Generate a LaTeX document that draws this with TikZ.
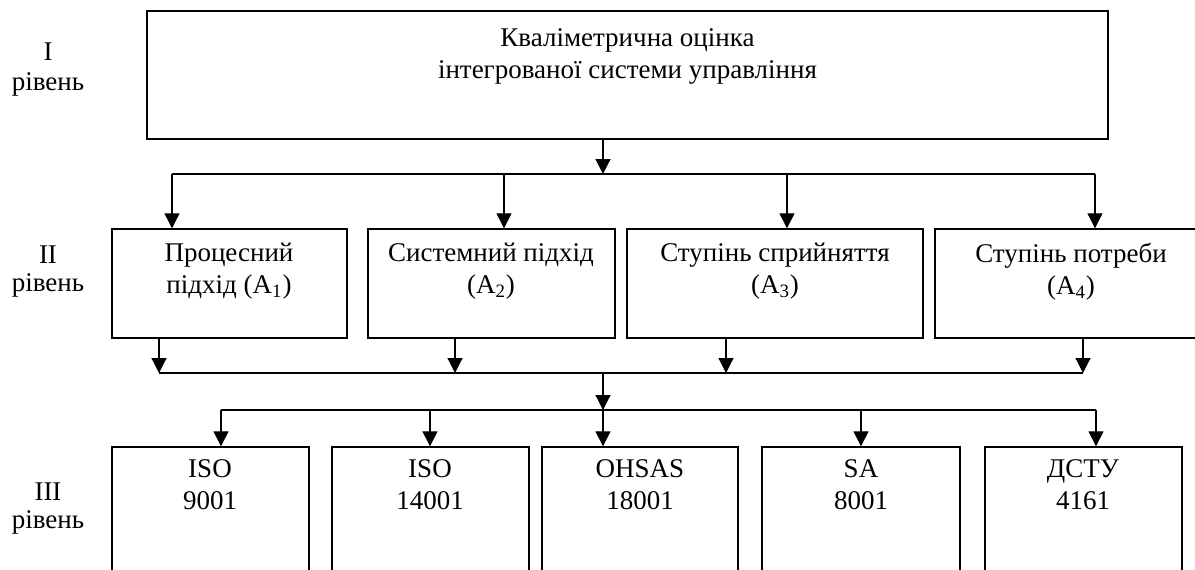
\documentclass[tikz,border=0pt]{standalone}
\usepackage{fontspec}
\setmainfont{Liberation Serif}
\usetikzlibrary{arrows.meta}
\begin{document}
\begin{tikzpicture}[x=0.5pt,y=-0.5pt,
	box/.style={draw=black,line width=0.7pt},
	txt/.style={anchor=north,align=center,font=\fontsize{13.5}{16}\selectfont,execute at begin node=\strut},
	arr/.style={black,line width=0.6pt,-{Triangle[length=7.5pt,width=7.5pt]}},
	rail/.style={black,line width=0.6pt}]
	\tikzstyle{every node}+=[inner sep=0pt]
	\useasboundingbox (0,0) rectangle (1195,569);
	\clip (0,0) rectangle (1195,569);
	% level labels
	\node [txt] (lvI) at (48,42.6) {I\\[-1pt]рівень};
	\node [txt] (lvII) at (48,245.6) {II\\[-2pt]рівень};
	\node [txt] (lvIII) at (48,482.6) {III\\[-2pt]рівень};
	% level I
	\node [box,minimum width=480.5pt,minimum height=64pt] (top) at (627.5,75) {};
	\node [txt] (topt) at (627.5,28.6) {Кваліметрична оцінка\\інтегрованої системи управління};
	% level II
	\node [box,minimum width=117.5pt,minimum height=54.5pt] (b1) at (229.5,283.5) {};
	\node [box,minimum width=123.5pt,minimum height=54.5pt] (b2) at (491.5,283.5) {};
	\node [box,minimum width=148pt,minimum height=54.5pt] (b3) at (775,283.5) {};
	\node [box,minimum width=136pt,minimum height=54.5pt] (b4) at (1071,283.5) {};
	\node [txt] (b1t) at (229,242.6) {Процесний\\підхід (A\textsubscript{1})};
	\node [txt] (b2t) at (491,242.6) {Системний підхід\\(A\textsubscript{2})};
	\node [txt] (b3t) at (775,242.6) {Ступінь сприйняття\\(A\textsubscript{3})};
	\node [txt] (b4t) at (1071,242.6) {Ступінь потреби\\(A\textsubscript{4})};
	% level III
	\node [box,minimum width=98.5pt,minimum height=76.5pt] (c1) at (210.5,523.5) {};
	\node [box,minimum width=98.5pt,minimum height=76.5pt] (c2) at (430.5,523.5) {};
	\node [box,minimum width=98pt,minimum height=76.5pt] (c3) at (640,523.5) {};
	\node [box,minimum width=99pt,minimum height=76.5pt] (c4) at (861,523.5) {};
	\node [box,minimum width=98.5pt,minimum height=76.5pt] (c5) at (1083.5,523.5) {};
	\node [txt] (c1t) at (210,459.6) {ISO\\9001};
	\node [txt] (c2t) at (430,459.6) {ISO\\14001};
	\node [txt] (c3t) at (640,459.6) {OHSAS\\18001};
	\node [txt] (c4t) at (861,459.6) {SA\\8001};
	\node [txt] (c5t) at (1083,459.6) {ДСТУ\\4161};
	% rail points
	\coordinate (s0) at (603,174);
	\coordinate (s1) at (172,174);
	\coordinate (s2) at (504,174);
	\coordinate (s3) at (787,174);
	\coordinate (s4) at (1095,174);
	\coordinate (m0) at (603,373);
	\coordinate (m1) at (159,373);
	\coordinate (m2) at (455,373);
	\coordinate (m3) at (726,373);
	\coordinate (m4) at (1083,373);
	\coordinate (n0) at (603,410);
	\coordinate (n1) at (221,410);
	\coordinate (n2) at (430,410);
	\coordinate (n4) at (861,410);
	\coordinate (n5) at (1096,410);
	% I -> II
	\draw [arr] (s0 |- top.south) -- (s0);
	\draw [rail] (s1) -- (s4);
	\draw [arr] (s1) -- (s1 |- b1.north);
	\draw [arr] (s2) -- (s2 |- b2.north);
	\draw [arr] (s3) -- (s3 |- b3.north);
	\draw [arr] (s4) -- (s4 |- b4.north);
	% II -> III
	\draw [arr] (m1 |- b1.south) -- (m1);
	\draw [arr] (m2 |- b2.south) -- (m2);
	\draw [arr] (m3 |- b3.south) -- (m3);
	\draw [arr] (m4 |- b4.south) -- (m4);
	\draw [rail] (m1) -- (m4);
	\draw [arr] (m0) -- (n0);
	\draw [rail] (n1) -- (n5);
	\draw [arr] (n1) -- (n1 |- c1.north);
	\draw [arr] (n2) -- (n2 |- c2.north);
	\draw [arr] (n0) -- (n0 |- c3.north);
	\draw [arr] (n4) -- (n4 |- c4.north);
	\draw [arr] (n5) -- (n5 |- c5.north);
\end{tikzpicture}
\end{document}
